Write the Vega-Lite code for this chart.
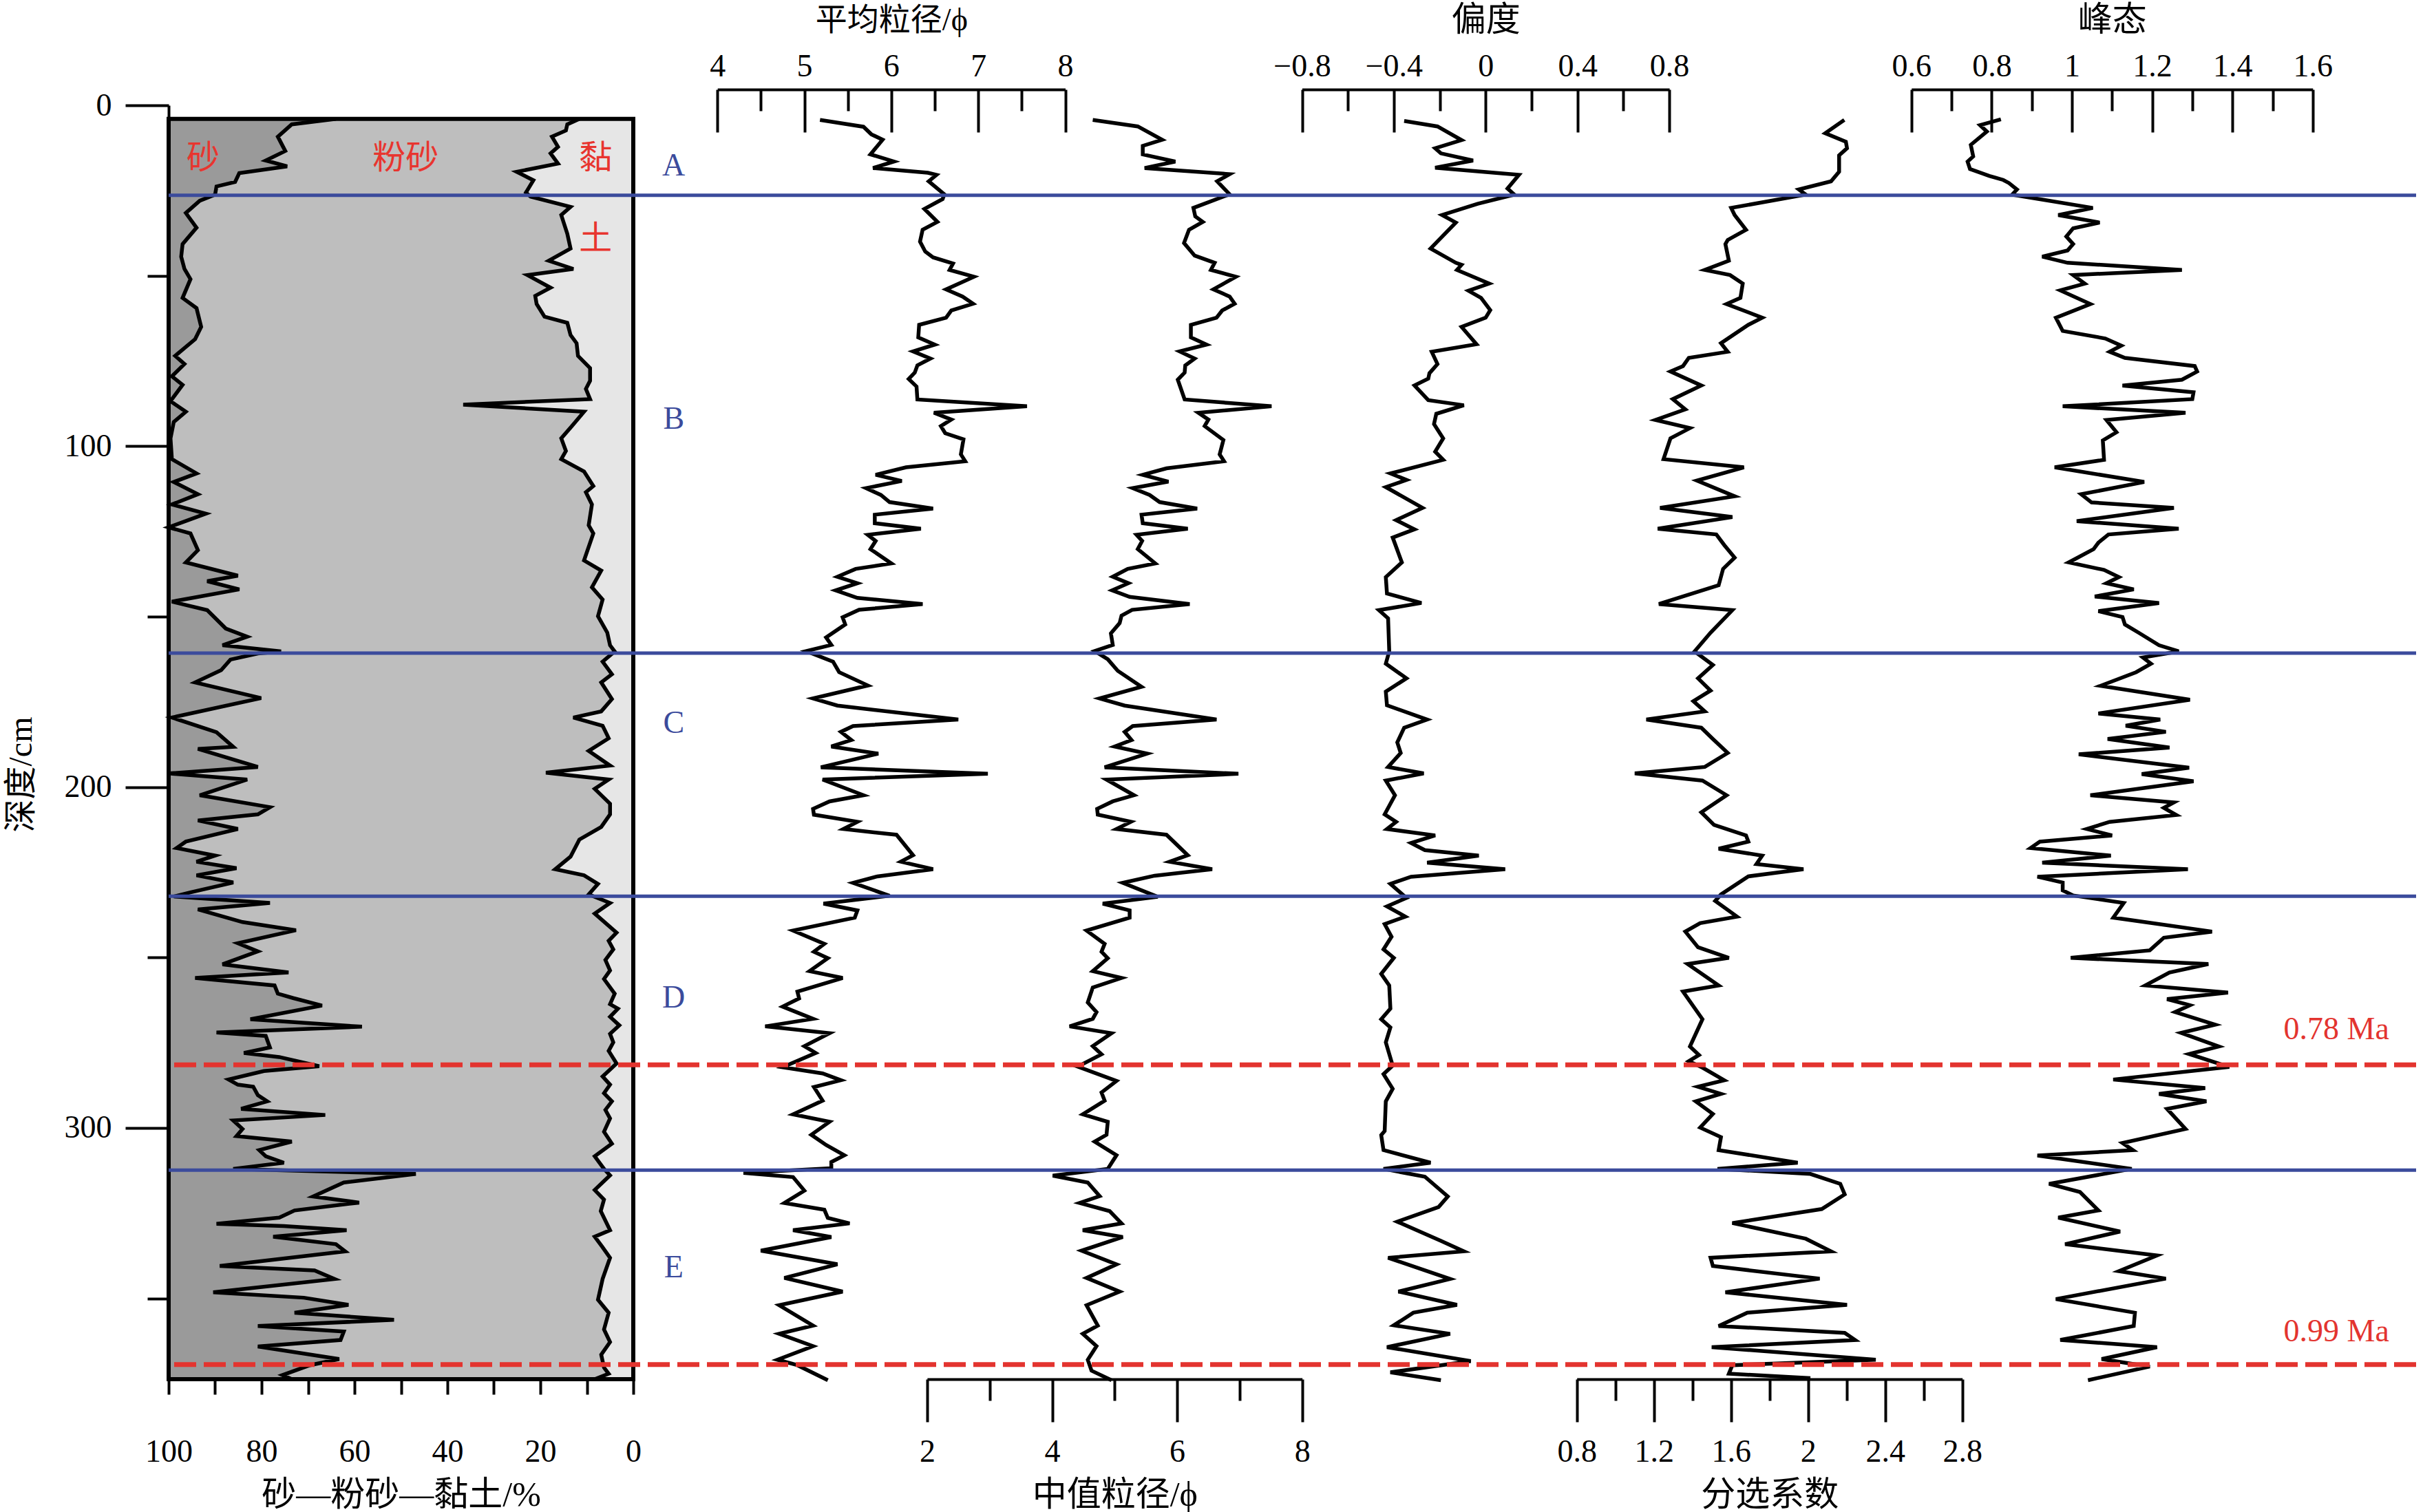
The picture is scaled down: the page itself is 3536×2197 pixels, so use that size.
{
"$schema": "https://vega.github.io/schema/vega-lite/v6.json",
"autosize": {"type": "none"},
"padding": {"left": 245, "top": 153, "right": 26, "bottom": 193},
"width": 3265,
"height": 1851,
"background": "white",
"config": {
 "view": {"stroke": null},
 "axis": {"domainColor": "black", "domainWidth": 4, "tickColor": "black", "tickWidth": 4, "labelColor": "black", "labelFont": "Liberation Serif", "labelFontSize": 46, "titleFont": "Liberation Serif, Noto Sans CJK SC", "titleFontSize": 50, "titleFontWeight": "normal", "titleColor": "black", "grid": false, "labelFlush": false, "labelOverlap": false, "titleBaseline": "middle", "titleAlign": "center"}
},
"datasets": {
 "sand": [{"d":4.0,"p":64.0},{"d":5.6,"p":73.5},{"d":9.2,"p":76.5},{"d":13.4,"p":74.9},{"d":16.2,"p":79.1},{"d":17.9,"p":74.5},{"d":19.9,"p":84.8},{"d":22.5,"p":85.7},{"d":23.8,"p":89.7},{"d":26.2,"p":90.0},{"d":28.0,"p":93.3},{"d":31.6,"p":96.3},{"d":35.9,"p":94.0},{"d":40.7,"p":97.0},{"d":44.4,"p":97.3},{"d":48.0,"p":96.6},{"d":51.0,"p":95.3},{"d":56.5,"p":97.0},{"d":59.5,"p":94.0},{"d":65.0,"p":93.0},{"d":68.6,"p":94.3},{"d":73.5,"p":98.6},{"d":75.9,"p":96.6},{"d":79.5,"p":99.3},{"d":82.0,"p":97.0},{"d":86.8,"p":99.6},{"d":89.9,"p":96.3},{"d":92.9,"p":98.9},{"d":97.7,"p":99.6},{"d":103.8,"p":99.3},{"d":108.0,"p":94.0},{"d":110.5,"p":98.9},{"d":114.1,"p":93.7},{"d":117.1,"p":99.3},{"d":119.8,"p":92.0},{"d":123.8,"p":100},{"d":125.6,"p":95.3},{"d":130.5,"p":93.7},{"d":134.1,"p":96.3},{"d":138.0,"p":85.1},{"d":139.6,"p":91.7},{"d":142.0,"p":84.8},{"d":145.6,"p":99.3},{"d":148.1,"p":91.7},{"d":153.5,"p":87.7},{"d":155.9,"p":83.1},{"d":158.4,"p":88.4},{"d":160.2,"p":75.8},{"d":160.8,"p":80.8},{"d":162.6,"p":86.7},{"d":165.7,"p":88.7},{"d":169.3,"p":94.3},{"d":173.9,"p":80.1},{"d":179.6,"p":99.3},{"d":183.9,"p":89.7},{"d":188.2,"p":86.1},{"d":188.8,"p":93.7},{"d":194.1,"p":80.8},{"d":196.0,"p":99.9},{"d":197.8,"p":83.1},{"d":202.4,"p":93.3},{"d":205.9,"p":78.2},{"d":208.0,"p":80.8},{"d":209.8,"p":93.7},{"d":212.3,"p":85.1},{"d":216.0,"p":96.3},{"d":217.9,"p":98.3},{"d":220.1,"p":90.0},{"d":221.9,"p":94.0},{"d":223.8,"p":85.4},{"d":225.9,"p":94.0},{"d":228.0,"p":86.1},{"d":230.9,"p":95.3},{"d":232.1,"p":98.9},{"d":234.0,"p":78.2},{"d":235.9,"p":93.7},{"d":239.6,"p":84.1},{"d":242.0,"p":72.6},{"d":245.8,"p":85.1},{"d":248.2,"p":80.8},{"d":252.0,"p":88.4},{"d":254.4,"p":74.2},{"d":256.0,"p":94.3},{"d":258.2,"p":77.2},{"d":260.6,"p":76.5},{"d":261.9,"p":73.2},{"d":264.1,"p":67.0},{"d":268.1,"p":82.4},{"d":270.3,"p":58.4},{"d":272.0,"p":89.7},{"d":273.0,"p":79.1},{"d":276.4,"p":78.2},{"d":278.0,"p":83.8},{"d":279.2,"p":76.2},{"d":281.9,"p":67.6},{"d":283.3,"p":79.5},{"d":285.8,"p":87.1},{"d":287.3,"p":85.1},{"d":287.9,"p":81.8},{"d":290.4,"p":80.8},{"d":292.2,"p":78.8},{"d":294.4,"p":84.4},{"d":296.2,"p":66.3},{"d":297.8,"p":86.1},{"d":300.3,"p":84.1},{"d":302.4,"p":85.4},{"d":304.0,"p":73.5},{"d":306.5,"p":80.5},{"d":308.3,"p":79.1},{"d":310.2,"p":75.2},{"d":312.0,"p":86.1},{"d":313.5,"p":46.8},{"d":316.0,"p":62.3},{"d":320.1,"p":68.9},{"d":321.9,"p":59.0},{"d":324.2,"p":72.9},{"d":326.3,"p":76.2},{"d":328.1,"p":89.7},{"d":328.8,"p":75.2},{"d":330.0,"p":61.7},{"d":331.9,"p":77.5},{"d":334.1,"p":64.0},{"d":336.2,"p":62.0},{"d":340.5,"p":89.0},{"d":341.8,"p":68.6},{"d":344.3,"p":64.3},{"d":348.2,"p":90.4},{"d":349.8,"p":70.9},{"d":351.9,"p":61.3},{"d":354.2,"p":72.9},{"d":356.3,"p":51.5},{"d":358.1,"p":80.8},{"d":359.7,"p":62.3},{"d":362.2,"p":63.0},{"d":364.1,"p":80.8},{"d":367.8,"p":63.3},{"d":369.6,"p":69.6},{"d":372.5,"p":75.5},{"d":373.7,"p":73.5}],
 "clay": [{"d":4.0,"p":11.6},{"d":5.6,"p":14.2},{"d":7.4,"p":14.5},{"d":9.2,"p":17.5},{"d":12.2,"p":16.2},{"d":14.1,"p":17.8},{"d":17.1,"p":16.2},{"d":19.5,"p":25.1},{"d":22.0,"p":21.5},{"d":25.6,"p":23.1},{"d":26.8,"p":22.1},{"d":29.8,"p":13.5},{"d":32.2,"p":15.5},{"d":37.7,"p":14.2},{"d":42.0,"p":13.5},{"d":45.6,"p":18.2},{"d":48.0,"p":12.9},{"d":49.8,"p":22.8},{"d":53.5,"p":17.8},{"d":55.9,"p":21.1},{"d":58.3,"p":20.8},{"d":62.0,"p":19.1},{"d":63.8,"p":14.2},{"d":67.4,"p":13.5},{"d":69.8,"p":12.2},{"d":73.5,"p":11.9},{"d":77.1,"p":9.3},{"d":80.8,"p":9.3},{"d":83.2,"p":10.2},{"d":86.2,"p":9.3},{"d":87.8,"p":36.6},{"d":89.9,"p":10.6},{"d":94.1,"p":13.2},{"d":97.7,"p":15.5},{"d":101.4,"p":14.5},{"d":103.8,"p":15.5},{"d":107.4,"p":10.6},{"d":111.7,"p":8.6},{"d":113.5,"p":10.2},{"d":117.1,"p":8.9},{"d":123.2,"p":9.6},{"d":125.6,"p":8.6},{"d":133.5,"p":10.6},{"d":136.5,"p":6.9},{"d":141.4,"p":8.9},{"d":145.0,"p":6.6},{"d":149.9,"p":7.6},{"d":154.7,"p":5.6},{"d":158.4,"p":5.0},{"d":160.2,"p":4.0},{"d":163.2,"p":6.6},{"d":166.9,"p":4.6},{"d":169.3,"p":6.9},{"d":174.2,"p":4.6},{"d":177.8,"p":6.9},{"d":179.6,"p":12.9},{"d":182.0,"p":6.6},{"d":184.8,"p":5.6},{"d":185.7,"p":5.3},{"d":189.4,"p":9.6},{"d":193.7,"p":5.0},{"d":195.8,"p":18.8},{"d":197.8,"p":5.3},{"d":200.5,"p":8.3},{"d":204.9,"p":5.0},{"d":208.0,"p":5.0},{"d":211.7,"p":6.9},{"d":215.4,"p":11.6},{"d":220.4,"p":13.5},{"d":224.1,"p":16.8},{"d":225.9,"p":10.6},{"d":228.4,"p":7.6},{"d":231.5,"p":9.6},{"d":234.0,"p":5.0},{"d":237.1,"p":8.3},{"d":242.7,"p":3.6},{"d":245.1,"p":5.3},{"d":247.6,"p":4.3},{"d":250.7,"p":6.0},{"d":253.8,"p":5.0},{"d":256.3,"p":6.3},{"d":260.6,"p":4.0},{"d":263.7,"p":5.0},{"d":265.0,"p":3.3},{"d":267.4,"p":5.0},{"d":269.9,"p":3.0},{"d":272.4,"p":5.0},{"d":274.9,"p":4.3},{"d":277.4,"p":5.3},{"d":281.1,"p":3.6},{"d":284.9,"p":6.6},{"d":287.3,"p":5.0},{"d":289.8,"p":6.3},{"d":292.2,"p":4.6},{"d":294.7,"p":6.0},{"d":297.2,"p":5.0},{"d":301.1,"p":6.3},{"d":304.6,"p":4.6},{"d":308.3,"p":8.3},{"d":312.0,"p":6.3},{"d":313.9,"p":5.0},{"d":318.2,"p":8.3},{"d":321.0,"p":6.3},{"d":324.4,"p":7.0},{"d":330.0,"p":5.0},{"d":331.9,"p":8.3},{"d":335.0,"p":6.6},{"d":338.1,"p":5.0},{"d":344.3,"p":6.6},{"d":350.4,"p":7.6},{"d":354.2,"p":5.3},{"d":359.1,"p":6.3},{"d":362.8,"p":5.0},{"d":366.5,"p":6.9},{"d":370.3,"p":6.3},{"d":372.1,"p":5.3},{"d":373.7,"p":8.3}],
 "mean": [{"d":4.3,"v":5.18},{"d":6.3,"v":5.68},{"d":8.5,"v":5.77},{"d":10.1,"v":5.9},{"d":14.4,"v":5.76},{"d":16.5,"v":6.03},{"d":18.4,"v":5.79},{"d":19.8,"v":6.42},{"d":20.4,"v":6.52},{"d":22.3,"v":6.43},{"d":26.1,"v":6.61},{"d":27.5,"v":6.59},{"d":30.4,"v":6.38},{"d":34.2,"v":6.53},{"d":36.5,"v":6.36},{"d":40.0,"v":6.33},{"d":42.9,"v":6.39},{"d":44.6,"v":6.48},{"d":46.4,"v":6.71},{"d":48.3,"v":6.67},{"d":50.3,"v":6.95},{"d":54.0,"v":6.63},{"d":56.1,"v":6.82},{"d":58.2,"v":6.94},{"d":60.2,"v":6.69},{"d":62.3,"v":6.63},{"d":64.4,"v":6.32},{"d":68.1,"v":6.31},{"d":70.2,"v":6.5},{"d":72.2,"v":6.25},{"d":74.3,"v":6.45},{"d":76.3,"v":6.3},{"d":78.4,"v":6.27},{"d":80.3,"v":6.2},{"d":82.5,"v":6.29},{"d":86.3,"v":6.3},{"d":88.3,"v":7.56},{"d":90.2,"v":6.49},{"d":92.2,"v":6.69},{"d":94.1,"v":6.57},{"d":96.2,"v":6.62},{"d":98.0,"v":6.83},{"d":102.4,"v":6.8},{"d":104.4,"v":6.85},{"d":106.2,"v":6.17},{"d":108.4,"v":5.82},{"d":110.2,"v":6.12},{"d":112.3,"v":5.71},{"d":114.3,"v":5.88},{"d":116.4,"v":5.98},{"d":118.3,"v":6.48},{"d":120.1,"v":5.81},{"d":122.6,"v":5.81},{"d":124.2,"v":6.34},{"d":126.0,"v":5.73},{"d":127.8,"v":5.82},{"d":130.2,"v":5.76},{"d":134.4,"v":6.0},{"d":136.0,"v":5.59},{"d":138.3,"v":5.38},{"d":140.2,"v":5.61},{"d":142.3,"v":5.36},{"d":144.5,"v":5.61},{"d":146.3,"v":6.36},{"d":148.0,"v":5.63},{"d":150.2,"v":5.44},{"d":152.3,"v":5.47},{"d":156.1,"v":5.25},{"d":158.3,"v":5.31},{"d":160.1,"v":5.02},{"d":163.2,"v":5.33},{"d":166.3,"v":5.4},{"d":170.2,"v":5.73},{"d":174.0,"v":5.1},{"d":176.1,"v":5.38},{"d":180.2,"v":6.77},{"d":182.1,"v":5.56},{"d":183.8,"v":5.42},{"d":186.2,"v":5.54},{"d":188.1,"v":5.31},{"d":190.2,"v":5.85},{"d":194.2,"v":5.19},{"d":196.1,"v":7.11},{"d":197.8,"v":5.21},{"d":202.4,"v":5.68},{"d":204.2,"v":5.29},{"d":206.4,"v":5.1},{"d":208.1,"v":5.11},{"d":210.2,"v":5.61},{"d":212.3,"v":5.45},{"d":214.0,"v":6.06},{"d":220.0,"v":6.25},{"d":221.9,"v":6.11},{"d":224.1,"v":6.48},{"d":226.2,"v":5.84},{"d":228.1,"v":5.56},{"d":231.9,"v":5.98},{"d":234.2,"v":5.22},{"d":236.2,"v":5.61},{"d":238.3,"v":5.58},{"d":242.1,"v":4.87},{"d":246.0,"v":5.23},{"d":248.3,"v":5.11},{"d":250.2,"v":5.27},{"d":254.0,"v":5.06},{"d":256.0,"v":5.44},{"d":260.0,"v":4.92},{"d":262.0,"v":4.94},{"d":264.4,"v":4.75},{"d":268.0,"v":5.1},{"d":270.2,"v":4.55},{"d":272.2,"v":5.29},{"d":276.0,"v":5.0},{"d":278.0,"v":5.13},{"d":282.2,"v":4.75},{"d":284.0,"v":5.21},{"d":286.0,"v":5.42},{"d":288.0,"v":5.11},{"d":292.0,"v":5.21},{"d":296.0,"v":4.87},{"d":298.2,"v":5.29},{"d":302.0,"v":5.08},{"d":305.0,"v":5.25},{"d":308.0,"v":5.46},{"d":310.0,"v":5.31},{"d":311.8,"v":5.31},{"d":313.2,"v":4.3},{"d":314.4,"v":4.87},{"d":318.4,"v":5.0},{"d":322.0,"v":4.77},{"d":324.0,"v":5.23},{"d":326.4,"v":5.27},{"d":328.0,"v":5.52},{"d":330.0,"v":4.87},{"d":332.0,"v":5.31},{"d":336.0,"v":4.5},{"d":340.0,"v":5.38},{"d":344.0,"v":4.77},{"d":348.0,"v":5.44},{"d":352.0,"v":4.71},{"d":358.0,"v":5.1},{"d":360.4,"v":4.71},{"d":364.0,"v":5.1},{"d":368.0,"v":4.69},{"d":369.6,"v":4.92},{"d":374.0,"v":5.27}],
 "median": [{"d":4.3,"v":4.65},{"d":6.2,"v":5.37},{"d":10.1,"v":5.76},{"d":11.9,"v":5.45},{"d":14.4,"v":5.45},{"d":16.5,"v":5.97},{"d":18.4,"v":5.48},{"d":20.2,"v":6.84},{"d":22.3,"v":6.64},{"d":26.1,"v":6.84},{"d":30.1,"v":6.26},{"d":32.6,"v":6.29},{"d":34.2,"v":6.41},{"d":36.5,"v":6.19},{"d":40.4,"v":6.11},{"d":44.1,"v":6.28},{"d":46.2,"v":6.6},{"d":48.3,"v":6.54},{"d":50.3,"v":6.94},{"d":54.0,"v":6.58},{"d":56.1,"v":6.84},{"d":58.2,"v":6.92},{"d":60.2,"v":6.72},{"d":62.3,"v":6.63},{"d":64.4,"v":6.22},{"d":68.1,"v":6.22},{"d":70.2,"v":6.47},{"d":72.2,"v":6.04},{"d":74.3,"v":6.28},{"d":76.3,"v":6.13},{"d":78.4,"v":6.12},{"d":80.5,"v":6.01},{"d":86.3,"v":6.12},{"d":88.3,"v":7.51},{"d":90.2,"v":6.34},{"d":92.2,"v":6.5},{"d":94.1,"v":6.44},{"d":98.2,"v":6.74},{"d":102.4,"v":6.68},{"d":104.4,"v":6.75},{"d":106.5,"v":5.83},{"d":108.4,"v":5.45},{"d":110.4,"v":5.86},{"d":112.3,"v":5.29},{"d":114.3,"v":5.56},{"d":116.4,"v":5.72},{"d":118.3,"v":6.32},{"d":120.1,"v":5.43},{"d":122.6,"v":5.45},{"d":124.2,"v":6.17},{"d":126.0,"v":5.35},{"d":127.8,"v":5.44},{"d":130.2,"v":5.37},{"d":134.4,"v":5.65},{"d":136.0,"v":5.21},{"d":138.3,"v":4.97},{"d":140.2,"v":5.22},{"d":142.3,"v":4.96},{"d":144.2,"v":5.24},{"d":146.3,"v":6.2},{"d":148.0,"v":5.28},{"d":149.7,"v":5.11},{"d":151.9,"v":5.08},{"d":154.9,"v":4.94},{"d":158.3,"v":4.97},{"d":160.1,"v":4.68},{"d":162.5,"v":4.89},{"d":165.9,"v":5.05},{"d":170.6,"v":5.43},{"d":174.0,"v":4.76},{"d":176.1,"v":5.16},{"d":180.2,"v":6.63},{"d":182.1,"v":5.29},{"d":183.8,"v":5.16},{"d":186.2,"v":5.27},{"d":188.1,"v":5.0},{"d":190.2,"v":5.52},{"d":194.2,"v":4.84},{"d":196.1,"v":6.98},{"d":197.8,"v":4.87},{"d":202.4,"v":5.31},{"d":204.2,"v":4.97},{"d":206.4,"v":4.72},{"d":208.1,"v":4.73},{"d":210.2,"v":5.26},{"d":212.3,"v":5.03},{"d":214.0,"v":5.83},{"d":220.0,"v":6.17},{"d":221.9,"v":5.88},{"d":224.1,"v":6.56},{"d":226.0,"v":5.64},{"d":228.1,"v":5.13},{"d":232.2,"v":5.69},{"d":234.2,"v":4.81},{"d":236.2,"v":5.24},{"d":238.3,"v":5.24},{"d":242.1,"v":4.55},{"d":246.0,"v":4.84},{"d":248.3,"v":4.79},{"d":250.2,"v":4.89},{"d":254.0,"v":4.65},{"d":256.0,"v":5.11},{"d":258.8,"v":4.65},{"d":263.2,"v":4.57},{"d":266.0,"v":4.71},{"d":268.0,"v":4.65},{"d":270.2,"v":4.28},{"d":272.2,"v":4.95},{"d":276.0,"v":4.65},{"d":278.4,"v":4.79},{"d":282.0,"v":4.41},{"d":286.2,"v":5.03},{"d":289.6,"v":4.79},{"d":292.0,"v":4.84},{"d":296.0,"v":4.49},{"d":298.2,"v":4.89},{"d":302.0,"v":4.87},{"d":304.0,"v":4.68},{"d":308.0,"v":5.03},{"d":312.0,"v":4.89},{"d":314.0,"v":4.01},{"d":316.0,"v":4.57},{"d":320.0,"v":4.76},{"d":322.0,"v":4.44},{"d":324.4,"v":4.92},{"d":328.0,"v":5.11},{"d":330.0,"v":4.49},{"d":332.0,"v":5.13},{"d":336.0,"v":4.47},{"d":340.0,"v":5.03},{"d":344.0,"v":4.55},{"d":348.0,"v":5.08},{"d":352.0,"v":4.55},{"d":358.0,"v":4.73},{"d":360.4,"v":4.49},{"d":364.0,"v":4.71},{"d":368.0,"v":4.57},{"d":371.2,"v":4.63},{"d":374.0,"v":4.95}],
 "skew": [{"d":4.6,"v":-0.355},{"d":6.2,"v":-0.21},{"d":10.2,"v":-0.105},{"d":12.6,"v":-0.22},{"d":14.1,"v":-0.195},{"d":16.2,"v":-0.055},{"d":18.3,"v":-0.22},{"d":20.4,"v":0.145},{"d":24.4,"v":0.095},{"d":26.2,"v":0.125},{"d":28.9,"v":-0.035},{"d":32.2,"v":-0.19},{"d":34.4,"v":-0.13},{"d":42.0,"v":-0.24},{"d":46.2,"v":-0.13},{"d":46.8,"v":-0.105},{"d":48.3,"v":-0.125},{"d":52.3,"v":0.015},{"d":54.4,"v":-0.075},{"d":56.5,"v":-0.02},{"d":60.1,"v":0.02},{"d":62.3,"v":0.0},{"d":65.0,"v":-0.105},{"d":70.1,"v":-0.04},{"d":72.3,"v":-0.235},{"d":75.9,"v":-0.21},{"d":78.6,"v":-0.245},{"d":80.2,"v":-0.25},{"d":82.2,"v":-0.31},{"d":86.5,"v":-0.25},{"d":88.0,"v":-0.095},{"d":90.5,"v":-0.215},{"d":93.5,"v":-0.225},{"d":97.7,"v":-0.185},{"d":101.6,"v":-0.22},{"d":104.0,"v":-0.185},{"d":108.0,"v":-0.415},{"d":109.9,"v":-0.345},{"d":112.0,"v":-0.435},{"d":118.1,"v":-0.275},{"d":121.7,"v":-0.39},{"d":124.4,"v":-0.31},{"d":126.8,"v":-0.405},{"d":134.1,"v":-0.365},{"d":138.4,"v":-0.435},{"d":143.2,"v":-0.43},{"d":146.0,"v":-0.28},{"d":148.1,"v":-0.465},{"d":150.5,"v":-0.425},{"d":160.2,"v":-0.42},{"d":163.8,"v":-0.435},{"d":168.1,"v":-0.345},{"d":172.0,"v":-0.435},{"d":176.0,"v":-0.43},{"d":180.2,"v":-0.255},{"d":182.6,"v":-0.355},{"d":186.9,"v":-0.385},{"d":190.0,"v":-0.37},{"d":194.1,"v":-0.425},{"d":196.0,"v":-0.27},{"d":198.1,"v":-0.435},{"d":202.4,"v":-0.395},{"d":208.0,"v":-0.44},{"d":210.2,"v":-0.39},{"d":212.3,"v":-0.43},{"d":214.2,"v":-0.22},{"d":216.4,"v":-0.325},{"d":218.5,"v":-0.265},{"d":220.1,"v":-0.03},{"d":222.2,"v":-0.255},{"d":224.1,"v":0.085},{"d":226.3,"v":-0.325},{"d":228.4,"v":-0.415},{"d":232.5,"v":-0.345},{"d":235.0,"v":-0.43},{"d":238.0,"v":-0.35},{"d":240.2,"v":-0.44},{"d":243.9,"v":-0.41},{"d":247.6,"v":-0.445},{"d":250.1,"v":-0.4},{"d":254.8,"v":-0.455},{"d":258.2,"v":-0.42},{"d":265.0,"v":-0.415},{"d":268.1,"v":-0.455},{"d":270.5,"v":-0.415},{"d":274.9,"v":-0.435},{"d":281.7,"v":-0.405},{"d":284.2,"v":-0.445},{"d":288.5,"v":-0.405},{"d":292.2,"v":-0.435},{"d":300.9,"v":-0.44},{"d":302.1,"v":-0.455},{"d":306.5,"v":-0.445},{"d":310.2,"v":-0.24},{"d":312.0,"v":-0.445},{"d":314.3,"v":-0.265},{"d":320.1,"v":-0.165},{"d":323.2,"v":-0.205},{"d":327.5,"v":-0.385},{"d":333.1,"v":-0.195},{"d":336.2,"v":-0.095},{"d":338.1,"v":-0.425},{"d":344.3,"v":-0.155},{"d":348.0,"v":-0.38},{"d":351.9,"v":-0.125},{"d":354.2,"v":-0.315},{"d":357.9,"v":-0.4},{"d":360.4,"v":-0.155},{"d":364.3,"v":-0.43},{"d":368.4,"v":-0.065},{"d":371.7,"v":-0.415},{"d":374.0,"v":-0.195}],
 "sorting": [{"d":4.3,"v":2.188},{"d":8.2,"v":2.089},{"d":10.7,"v":2.196},{"d":12.6,"v":2.202},{"d":14.7,"v":2.161},{"d":19.5,"v":2.161},{"d":22.3,"v":2.119},{"d":24.7,"v":1.952},{"d":26.2,"v":1.988},{"d":30.1,"v":1.601},{"d":32.2,"v":1.619},{"d":36.5,"v":1.678},{"d":39.5,"v":1.583},{"d":40.7,"v":1.571},{"d":45.6,"v":1.589},{"d":48.3,"v":1.464},{"d":49.8,"v":1.595},{"d":52.3,"v":1.661},{"d":56.5,"v":1.649},{"d":58.3,"v":1.577},{"d":62.3,"v":1.762},{"d":64.4,"v":1.69},{"d":69.8,"v":1.548},{"d":72.3,"v":1.583},{"d":74.1,"v":1.381},{"d":76.5,"v":1.351},{"d":78.1,"v":1.286},{"d":82.2,"v":1.446},{"d":86.2,"v":1.298},{"d":89.2,"v":1.363},{"d":92.3,"v":1.208},{"d":94.7,"v":1.387},{"d":97.7,"v":1.286},{"d":103.8,"v":1.25},{"d":106.2,"v":1.667},{"d":110.1,"v":1.423},{"d":114.7,"v":1.619},{"d":118.1,"v":1.232},{"d":120.8,"v":1.607},{"d":124.2,"v":1.22},{"d":125.9,"v":1.524},{"d":129.0,"v":1.565},{"d":132.7,"v":1.619},{"d":136.0,"v":1.559},{"d":140.8,"v":1.536},{"d":146.3,"v":1.226},{"d":148.1,"v":1.607},{"d":154.7,"v":1.494},{"d":160.2,"v":1.411},{"d":164.2,"v":1.506},{"d":168.1,"v":1.429},{"d":171.7,"v":1.494},{"d":174.8,"v":1.405},{"d":177.8,"v":1.464},{"d":180.2,"v":1.161},{"d":182.6,"v":1.446},{"d":185.9,"v":1.506},{"d":190.0,"v":1.583},{"d":194.1,"v":1.464},{"d":196.0,"v":1.101},{"d":198.1,"v":1.452},{"d":202.4,"v":1.577},{"d":207.4,"v":1.446},{"d":211.1,"v":1.512},{"d":214.2,"v":1.678},{"d":216.0,"v":1.69},{"d":218.1,"v":1.536},{"d":220.1,"v":1.762},{"d":222.6,"v":1.732},{"d":224.1,"v":1.976},{"d":226.2,"v":1.69},{"d":231.5,"v":1.548},{"d":233.4,"v":1.518},{"d":238.0,"v":1.631},{"d":239.9,"v":1.44},{"d":242.4,"v":1.363},{"d":247.0,"v":1.429},{"d":250.1,"v":1.589},{"d":251.9,"v":1.375},{"d":258.2,"v":1.536},{"d":260.0,"v":1.351},{"d":268.1,"v":1.452},{"d":276.1,"v":1.387},{"d":278.6,"v":1.434},{"d":280.4,"v":1.381},{"d":282.3,"v":1.452},{"d":286.0,"v":1.565},{"d":287.9,"v":1.428},{"d":290.0,"v":1.548},{"d":292.2,"v":1.417},{"d":295.9,"v":1.506},{"d":299.9,"v":1.44},{"d":302.7,"v":1.548},{"d":306.5,"v":1.536},{"d":310.2,"v":1.946},{"d":312.0,"v":1.53},{"d":313.5,"v":2.012},{"d":316.4,"v":2.167},{"d":319.5,"v":2.19},{"d":323.8,"v":2.071},{"d":327.9,"v":1.607},{"d":332.5,"v":1.988},{"d":336.2,"v":2.119},{"d":338.1,"v":1.494},{"d":340.5,"v":1.506},{"d":344.2,"v":2.06},{"d":348.2,"v":1.571},{"d":351.9,"v":2.202},{"d":354.2,"v":1.684},{"d":358.1,"v":1.536},{"d":360.1,"v":2.19},{"d":362.2,"v":2.244},{"d":364.3,"v":1.5},{"d":368.0,"v":2.351},{"d":369.6,"v":1.607},{"d":372.1,"v":1.589},{"d":373.4,"v":2.012}],
 "kurt": [{"d":4.1,"v":0.823},{"d":5.8,"v":0.771},{"d":7.7,"v":0.788},{"d":11.6,"v":0.748},{"d":15.0,"v":0.754},{"d":16.5,"v":0.74},{"d":18.7,"v":0.746},{"d":20.7,"v":0.794},{"d":21.9,"v":0.829},{"d":22.8,"v":0.843},{"d":24.7,"v":0.863},{"d":26.2,"v":0.851},{"d":30.1,"v":1.052},{"d":32.2,"v":0.966},{"d":34.4,"v":1.069},{"d":36.1,"v":1.003},{"d":38.5,"v":0.986},{"d":40.7,"v":1.003},{"d":42.6,"v":0.989},{"d":44.4,"v":0.926},{"d":46.2,"v":0.989},{"d":48.3,"v":1.274},{"d":49.8,"v":1.003},{"d":52.3,"v":1.032},{"d":54.3,"v":0.971},{"d":58.3,"v":1.046},{"d":62.3,"v":0.96},{"d":66.2,"v":0.977},{"d":68.4,"v":1.083},{"d":70.5,"v":1.123},{"d":72.3,"v":1.094},{"d":74.1,"v":1.132},{"d":76.5,"v":1.306},{"d":78.1,"v":1.312},{"d":80.5,"v":1.274},{"d":82.2,"v":1.126},{"d":84.2,"v":1.303},{"d":86.2,"v":1.3},{"d":88.3,"v":0.977},{"d":90.2,"v":1.283},{"d":92.3,"v":1.086},{"d":95.9,"v":1.111},{"d":98.3,"v":1.077},{"d":104.0,"v":1.08},{"d":106.2,"v":0.957},{"d":110.5,"v":1.18},{"d":114.1,"v":1.023},{"d":116.5,"v":1.049},{"d":118.1,"v":1.254},{"d":122.0,"v":1.012},{"d":124.2,"v":1.266},{"d":125.9,"v":1.091},{"d":128.3,"v":1.066},{"d":130.2,"v":1.054},{"d":134.1,"v":0.992},{"d":136.3,"v":1.08},{"d":138.4,"v":1.117},{"d":140.2,"v":1.086},{"d":142.0,"v":1.154},{"d":144.1,"v":1.057},{"d":146.0,"v":1.217},{"d":148.4,"v":1.066},{"d":150.1,"v":1.126},{"d":152.3,"v":1.132},{"d":154.7,"v":1.166},{"d":158.4,"v":1.217},{"d":160.2,"v":1.266},{"d":162.0,"v":1.177},{"d":163.8,"v":1.197},{"d":166.3,"v":1.16},{"d":170.3,"v":1.071},{"d":174.4,"v":1.294},{"d":178.4,"v":1.066},{"d":180.2,"v":1.22},{"d":182.0,"v":1.134},{"d":183.8,"v":1.234},{"d":185.9,"v":1.089},{"d":188.4,"v":1.243},{"d":190.4,"v":1.017},{"d":194.3,"v":1.292},{"d":196.2,"v":1.174},{"d":198.3,"v":1.303},{"d":202.4,"v":1.046},{"d":204.5,"v":1.254},{"d":206.1,"v":1.229},{"d":208.2,"v":1.26},{"d":210.2,"v":1.094},{"d":212.3,"v":1.037},{"d":214.2,"v":1.1},{"d":216.0,"v":0.92},{"d":217.9,"v":0.897},{"d":220.1,"v":1.097},{"d":222.2,"v":0.926},{"d":224.1,"v":1.289},{"d":226.3,"v":0.914},{"d":228.0,"v":0.977},{"d":230.3,"v":0.977},{"d":231.8,"v":1.003},{"d":234.0,"v":1.129},{"d":238.3,"v":1.103},{"d":242.4,"v":1.349},{"d":244.2,"v":1.229},{"d":247.9,"v":1.194},{"d":250.1,"v":0.997},{"d":251.9,"v":1.34},{"d":254.4,"v":1.243},{"d":258.2,"v":1.183},{"d":260.3,"v":1.389},{"d":262.2,"v":1.237},{"d":264.0,"v":1.294},{"d":266.0,"v":1.257},{"d":269.7,"v":1.357},{"d":272.1,"v":1.272},{"d":276.1,"v":1.366},{"d":278.3,"v":1.292},{"d":282.1,"v":1.392},{"d":285.8,"v":1.103},{"d":288.3,"v":1.332},{"d":290.0,"v":1.217},{"d":292.2,"v":1.335},{"d":294.4,"v":1.237},{"d":300.3,"v":1.283},{"d":304.4,"v":1.126},{"d":306.5,"v":1.152},{"d":308.1,"v":0.914},{"d":312.0,"v":1.149},{"d":316.4,"v":0.943},{"d":318.8,"v":1.02},{"d":324.2,"v":1.066},{"d":326.3,"v":0.966},{"d":330.4,"v":1.12},{"d":334.1,"v":0.983},{"d":337.4,"v":1.212},{"d":342.0,"v":1.117},{"d":344.2,"v":1.234},{"d":350.2,"v":0.96},{"d":354.2,"v":1.157},{"d":358.1,"v":1.154},{"d":362.2,"v":0.971},{"d":364.3,"v":1.212},{"d":367.8,"v":1.074},{"d":370.0,"v":1.194},{"d":374.0,"v":1.04}]
},
"layer": [
 {"data": {"values": [{}]}, "mark": {"type": "rect", "fill": "#e6e6e6"},
  "encoding": {
   "x": {"datum": 0, "type": "quantitative", "scale": {"domain": [0, 100], "range": [675, 0], "nice": false, "zero": false},
    "axis": {"orient": "bottom", "offset": 0, "values": [0,10,20,30,40,50,60,70,80,90,100], "labelExpr": "datum.value % 20 === 0 ? format(datum.value, 'd') : ''", "tickSize": 22, "labelPadding": 97, "labelBaseline": "alphabetic", "title": "砂—粉砂—黏土/%", "titleY": 168}},
   "x2": {"datum": 100},
   "y": {"datum": 4.0, "type": "quantitative", "scale": {"domain": [0, 373.7], "reverse": true, "nice": false, "zero": false}, "axis": null},
   "y2": {"datum": 373.7}}},
 {"data": {"name": "clay"}, "mark": {"type": "area", "orient": "horizontal", "fill": "#bebebe"},
  "encoding": {
   "x": {"field": "p", "type": "quantitative", "scale": {"domain": [0, 100], "range": [675, 0], "nice": false, "zero": false}, "axis": null},
   "x2": {"datum": 100},
   "y": {"field": "d", "type": "quantitative", "scale": {"domain": [0, 373.7], "reverse": true, "nice": false, "zero": false},
    "axis": {"orient": "left", "offset": 0, "values": [0,50,100,150,200,250,300,350], "labelExpr": "datum.value % 100 === 0 ? format(datum.value, 'd') : ''", "tickSize": {"condition": {"test": "datum.value % 100 === 0", "value": 63}, "value": 31}, "labelPadding": 20, "labelBaseline": "middle", "labelAlign": "right", "title": "深度/cm", "titleFontSize": 48, "titleAngle": -90, "titleX": -214, "titleY": 972}}}},
 {"data": {"name": "sand"}, "mark": {"type": "area", "orient": "horizontal", "fill": "#9a9a9a"},
  "encoding": {
   "x": {"field": "p", "type": "quantitative", "scale": {"domain": [0, 100], "range": [675, 0], "nice": false, "zero": false}, "axis": null},
   "x2": {"datum": 100},
   "y": {"field": "d", "type": "quantitative", "scale": {"domain": [0, 373.7], "reverse": true, "nice": false, "zero": false}, "axis": null}}},
 {"data": {"name": "sand"}, "mark": {"type": "line", "stroke": "black", "strokeWidth": 5.5},
  "encoding": {
   "x": {"field": "p", "type": "quantitative", "scale": {"domain": [0, 100], "range": [675, 0], "nice": false, "zero": false}, "axis": null},
   "y": {"field": "d", "type": "quantitative", "scale": {"domain": [0, 373.7], "reverse": true, "nice": false, "zero": false}, "axis": null},
   "order": {"field": "d", "type": "quantitative"}}},
 {"data": {"name": "clay"}, "mark": {"type": "line", "stroke": "black", "strokeWidth": 5.5},
  "encoding": {
   "x": {"field": "p", "type": "quantitative", "scale": {"domain": [0, 100], "range": [675, 0], "nice": false, "zero": false}, "axis": null},
   "y": {"field": "d", "type": "quantitative", "scale": {"domain": [0, 373.7], "reverse": true, "nice": false, "zero": false}, "axis": null},
   "order": {"field": "d", "type": "quantitative"}}},
 {"data": {"values": [{}]}, "mark": {"type": "rect", "fillOpacity": 0, "stroke": "black", "strokeWidth": 6},
  "encoding": {
   "x": {"datum": 0, "type": "quantitative", "scale": {"domain": [0, 100], "range": [675, 0], "nice": false, "zero": false}, "axis": null},
   "x2": {"datum": 100},
   "y": {"datum": 4.0, "type": "quantitative", "scale": {"domain": [0, 373.7], "reverse": true, "nice": false, "zero": false}, "axis": null},
   "y2": {"datum": 373.7}}},
 {"data": {"values": [{"t": "砂", "p": 92.6, "d": 15.8}, {"t": "粉砂", "p": 49.0, "d": 15.8}, {"t": "黏", "p": 8.1, "d": 15.8}, {"t": "土", "p": 8.1, "d": 39.4}]},
  "mark": {"type": "text", "font": "Noto Sans CJK SC", "fontSize": 48, "color": "#e8352f", "align": "center", "baseline": "middle"},
  "encoding": {
   "x": {"field": "p", "type": "quantitative", "scale": {"domain": [0, 100], "range": [675, 0], "nice": false, "zero": false}, "axis": null},
   "y": {"field": "d", "type": "quantitative", "scale": {"domain": [0, 373.7], "reverse": true, "nice": false, "zero": false}, "axis": null},
   "text": {"field": "t"}}},
 {"data": {"values": [{"t": "A", "d": 17.8}, {"t": "B", "d": 92.0}, {"t": "C", "d": 181.3}, {"t": "D", "d": 261.8}, {"t": "E", "d": 341.0}]},
  "mark": {"type": "text", "font": "Liberation Serif", "fontSize": 46, "color": "#3b4b9c", "align": "center", "baseline": "middle"},
  "encoding": {
   "x": {"datum": -8.7, "type": "quantitative", "scale": {"domain": [0, 100], "range": [675, 0], "nice": false, "zero": false}, "axis": null},
   "y": {"field": "d", "type": "quantitative", "scale": {"domain": [0, 373.7], "reverse": true, "nice": false, "zero": false}, "axis": null},
   "text": {"field": "t"}}},
 {"data": {"name": "mean"}, "mark": {"type": "line", "stroke": "black", "strokeWidth": 5.5},
  "encoding": {
   "x": {"field": "v", "type": "quantitative", "scale": {"domain": [4, 8], "range": [797.2, 1302.5], "nice": false, "zero": false},
    "axis": {"orient": "top", "offset": 23, "values": [4,4.5,5,5.5,6,6.5,7,7.5,8], "labelExpr": "datum.value % 1 === 0 ? format(datum.value, '.1~f') : ''", "tickSize": {"condition": {"test": "datum.value % 1 === 0", "value": -62}, "value": -31}, "labelPadding": 82, "labelBaseline": "alphabetic", "title": "平均粒径/ϕ", "titleFontSize": 46, "titleY": -101}},
   "y": {"field": "d", "type": "quantitative", "scale": {"domain": [0, 373.7], "reverse": true, "nice": false, "zero": false}, "axis": null},
   "order": {"field": "d", "type": "quantitative"}}},
 {"data": {"name": "median"}, "mark": {"type": "line", "stroke": "black", "strokeWidth": 5.5},
  "encoding": {
   "x": {"field": "v", "type": "quantitative", "scale": {"domain": [2, 8], "range": [1101.9, 1646.7], "nice": false, "zero": false},
    "axis": {"orient": "bottom", "offset": 0, "values": [2,3,4,5,6,7,8], "labelExpr": "datum.value % 2 === 0 ? format(datum.value, 'd') : ''", "tickSize": {"condition": {"test": "datum.value % 2 === 0", "value": 62}, "value": 31}, "labelPadding": 57, "labelBaseline": "alphabetic", "title": "中值粒径/ϕ", "titleY": 168}},
   "y": {"field": "d", "type": "quantitative", "scale": {"domain": [0, 373.7], "reverse": true, "nice": false, "zero": false}, "axis": null},
   "order": {"field": "d", "type": "quantitative"}}},
 {"data": {"name": "skew"}, "mark": {"type": "line", "stroke": "black", "strokeWidth": 5.5},
  "encoding": {
   "x": {"field": "v", "type": "quantitative", "scale": {"domain": [-0.8, 0.8], "range": [1646.5, 2180.1], "nice": false, "zero": false},
    "axis": {"orient": "top", "offset": 23, "values": [-0.8,-0.6,-0.4,-0.2,0,0.2,0.4,0.6,0.8], "labelExpr": "round(abs(datum.value) * 10) % 4 === 0 ? format(datum.value, '.1~f') : ''", "tickSize": {"condition": {"test": "round(abs(datum.value) * 10) % 4 === 0", "value": -62}, "value": -31}, "labelPadding": 82, "labelBaseline": "alphabetic", "title": "偏度", "titleY": -101}},
   "y": {"field": "d", "type": "quantitative", "scale": {"domain": [0, 373.7], "reverse": true, "nice": false, "zero": false}, "axis": null},
   "order": {"field": "d", "type": "quantitative"}}},
 {"data": {"name": "sorting"}, "mark": {"type": "line", "stroke": "black", "strokeWidth": 5.5},
  "encoding": {
   "x": {"field": "v", "type": "quantitative", "scale": {"domain": [0.8, 2.8], "range": [2045.7, 2605.7], "nice": false, "zero": false},
    "axis": {"orient": "bottom", "offset": 0, "values": [0.8,1,1.2,1.4,1.6,1.8,2,2.2,2.4,2.6,2.8], "labelExpr": "round(datum.value * 10) % 4 === 0 ? format(datum.value, '.1~f') : ''", "tickSize": {"condition": {"test": "round(datum.value * 10) % 4 === 0", "value": 62}, "value": 31}, "labelPadding": 57, "labelBaseline": "alphabetic", "title": "分选系数", "titleY": 168}},
   "y": {"field": "d", "type": "quantitative", "scale": {"domain": [0, 373.7], "reverse": true, "nice": false, "zero": false}, "axis": null},
   "order": {"field": "d", "type": "quantitative"}}},
 {"data": {"name": "kurt"}, "mark": {"type": "line", "stroke": "black", "strokeWidth": 5.5},
  "encoding": {
   "x": {"field": "v", "type": "quantitative", "scale": {"domain": [0.6, 1.6], "range": [2531.8, 3114.8], "nice": false, "zero": false},
    "axis": {"orient": "top", "offset": 23, "values": [0.6,0.7,0.8,0.9,1,1.1,1.2,1.3,1.4,1.5,1.6], "labelExpr": "round(datum.value * 10) % 2 === 0 ? format(datum.value, '.1~f') : ''", "tickSize": {"condition": {"test": "round(datum.value * 10) % 2 === 0", "value": -62}, "value": -31}, "labelPadding": 82, "labelBaseline": "alphabetic", "title": "峰态", "titleY": -101}},
   "y": {"field": "d", "type": "quantitative", "scale": {"domain": [0, 373.7], "reverse": true, "nice": false, "zero": false}, "axis": null},
   "order": {"field": "d", "type": "quantitative"}}},
 {"data": {"values": [{"t": "0.78 Ma", "d": 271.1}, {"t": "0.99 Ma", "d": 359.8}]},
  "mark": {"type": "text", "font": "Liberation Serif", "fontSize": 46, "color": "#e3342f", "align": "center", "baseline": "middle"},
  "encoding": {
   "x": {"datum": 1.659, "type": "quantitative", "scale": {"domain": [0.6, 1.6], "range": [2531.8, 3114.8], "nice": false, "zero": false}, "axis": null},
   "y": {"field": "d", "type": "quantitative", "scale": {"domain": [0, 373.7], "reverse": true, "nice": false, "zero": false}, "axis": null},
   "text": {"field": "t"}}},
 {"data": {"values": [{"d": 26.4}, {"d": 160.7}, {"d": 232.0}, {"d": 312.4}]},
  "mark": {"type": "rule", "stroke": "#3b4b9c", "strokeWidth": 5},
  "encoding": {"y": {"field": "d", "type": "quantitative", "scale": {"domain": [0, 373.7], "reverse": true, "nice": false, "zero": false}, "axis": null}}},
 {"data": {"values": [{"d": 281.5}, {"d": 369.4}]},
  "mark": {"type": "rule", "stroke": "#e3342f", "strokeWidth": 7, "strokeDash": [32, 11]},
  "encoding": {"y": {"field": "d", "type": "quantitative", "scale": {"domain": [0, 373.7], "reverse": true, "nice": false, "zero": false}, "axis": null}}}
],
"resolve": {"scale": {"x": "independent"}, "axis": {"x": "independent", "y": "independent"}}
}
